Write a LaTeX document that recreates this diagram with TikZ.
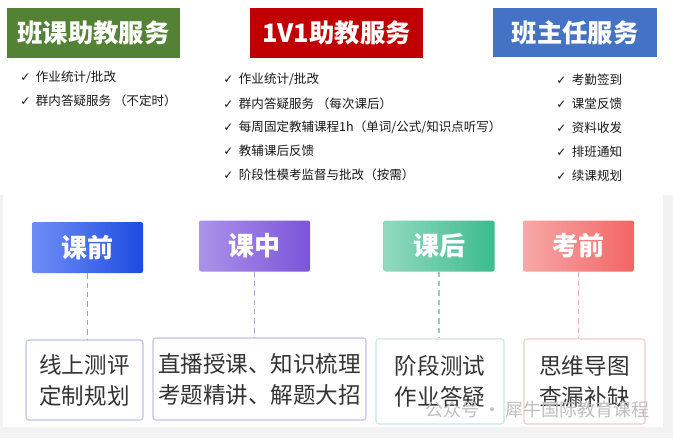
\documentclass[tikz,border=0pt]{standalone}
\usepackage{fontspec}
\newfontfamily\cjk{Noto Sans CJK SC}
\newfontfamily\symb{DejaVu Sans}
\usetikzlibrary{positioning}

\definecolor{hdgreen}{HTML}{548235}
\definecolor{hdred}{HTML}{C00000}
\definecolor{hdblue}{HTML}{4472C4}
\definecolor{txtgray}{HTML}{333333}
\definecolor{bgpanel}{HTML}{F2F2F2}
\definecolor{qianL}{HTML}{6E8EF7}
\definecolor{qianR}{HTML}{1E4BE0}
\definecolor{zhongL}{HTML}{AB93E8}
\definecolor{zhongR}{HTML}{7B54DB}
\definecolor{houL}{HTML}{92DABE}
\definecolor{houR}{HTML}{3CBB8F}
\definecolor{kaoL}{HTML}{F8A8A8}
\definecolor{kaoR}{HTML}{F36565}
\definecolor{qianLine}{HTML}{8FA3D8}
\definecolor{zhongLine}{HTML}{AAA2D8}
\definecolor{houLine}{HTML}{93CFC5}
\definecolor{kaoLine}{HTML}{EBAFAF}
\definecolor{qianBox}{HTML}{B8C6E8}
\definecolor{zhongBox}{HTML}{C6BFE8}
\definecolor{houBox}{HTML}{C8E6E6}
\definecolor{kaoBox}{HTML}{F2CCC8}

\newcommand{\ck}{{\symb\bfseries\fontsize{9}{9}\selectfont ✓}\ \ }

\begin{document}
\begin{tikzpicture}[x=0.75pt,y=-0.75pt,
  header/.style={text=white, font=\cjk\bfseries\fontsize{19}{20}\selectfont, inner sep=0pt, minimum height=37.5pt},
  item/.style={anchor=west, inner sep=0pt, text=black!90, font=\cjk\fontsize{9.4}{11}\selectfont},
  phase/.style={text=white, font=\cjk\bfseries\fontsize{19.5}{20}\selectfont, inner sep=0pt, minimum width=83.25pt, minimum height=38.25pt, rounded corners=1.5pt},
  content/.style={draw, line width=0.8pt, rounded corners=2pt, align=center, inner sep=0pt, text=txtgray, font=\cjk\fontsize{16.9}{23.25}\selectfont},
  link/.style={dashed, line width=0.9pt, dash pattern=on 4pt off 3pt}]
\useasboundingbox (0,0) rectangle (673,438);

% background
\fill[white] (0,0) rectangle (673,438);
\fill[bgpanel] (0,195) rectangle (673,438);
\fill[white] (3,195) rectangle (663,427);

% Service headers
\node (banke) [header, fill=hdgreen, minimum width=129.75pt] at (93.5,33) {班课助教服务};
\node (yiduiyi) [header, fill=hdred, minimum width=129.75pt] at (336.5,33) {1V1助教服务};
\node (banzhuren) [header, fill=hdblue, minimum width=123pt, minimum height=36.75pt] at (575,32.5) {班主任服务};

% Service items
\foreach \t [count=\i] in {作业统计/批改, 群内答疑服务 （不定时）}
  \node (banke\i) [item] at (20,{77+24*(\i-1)}) {\ck\t};
\foreach \t [count=\i] in {作业统计/批改, 群内答疑服务 （每次课后）, 每周固定教辅课程1h（单词/公式/知识点听写）, 教辅课后反馈, 阶段性模考监督与批改（按需）}
  \node (yiduiyi\i) [item] at (223,{79.5+23.8*(\i-1)}) {\ck\t};
\foreach \t [count=\i] in {考勤签到, 课堂反馈, 资料收发, 排班通知, 续课规划}
  \node (banzhuren\i) [item] at (556,{80+24*(\i-1)}) {\ck\t};

% Phases
\node (kqian) [phase, left color=qianL, right color=qianR] at (87.5,247.5) {课前};
\node (kzhong) [phase, left color=zhongL, right color=zhongR] at (254.5,246) {课中};
\node (khou) [phase, left color=houL, right color=houR] at (439,246) {课后};
\node (kaoqian) [phase, left color=kaoL, right color=kaoR] at (578.5,246) {考前};

% Contents
\node (xianshang) [content, draw=qianBox, minimum width=87.75pt, minimum height=60pt] at (84.5,380) {线上测评\\定制规划};
\node (zhibo) [content, draw=zhongBox, minimum width=159.75pt, minimum height=61.5pt] at (259.5,379) {直播授课、知识梳理\\考题精讲、解题大招};
\node (jieduan) [content, draw=houBox, minimum width=96pt, minimum height=63.75pt] at (440,381.5) {阶段测试\\作业答疑};
\node (siwei) [content, draw=kaoBox, minimum width=90.75pt, minimum height=63.75pt] at (584.5,381.5) {思维导图\\查漏补缺};

% Links
\draw[link, draw=qianLine] (kqian.south) -- (kqian.south |- xianshang.north);
\draw[link, draw=zhongLine] (kzhong.south) -- (kzhong.south |- zhibo.north);
\draw[link, draw=houLine] (khou.south) -- (khou.south |- jieduan.north);
\draw[link, draw=kaoLine] (kaoqian.south) -- (kaoqian.south |- siwei.north);

% watermark
\node (mark) [anchor=west, inner sep=0pt, text=black!25, font=\cjk\fontsize{13.5}{14}\selectfont] at (425,410) {公众号 · 犀牛国际教育课程};
\end{tikzpicture}
\end{document}
